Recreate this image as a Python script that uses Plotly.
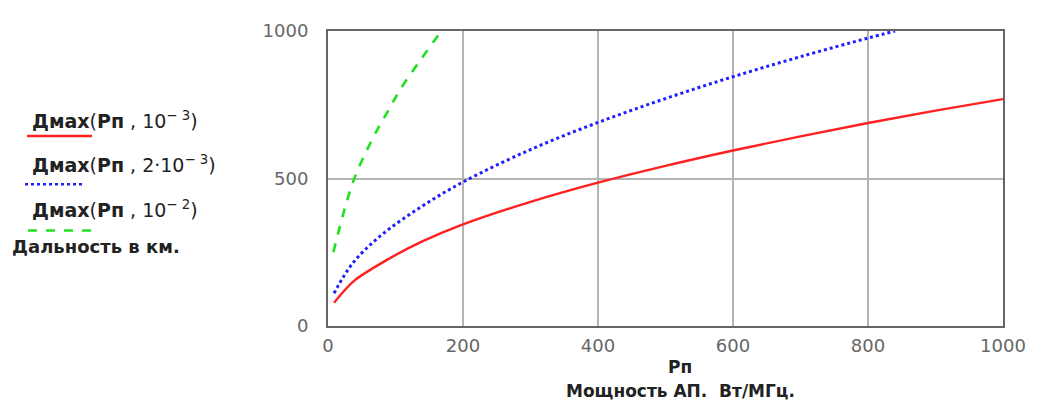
import plotly.graph_objects as go

# Data
pn_red = [9, 25, 39, 88, 138, 197, 300, 400, 500, 600, 700, 800, 900, 1000]
d_red = [79, 122, 154, 225, 285, 342, 421, 486, 543, 595, 643, 688, 730, 769]

pn_blue = [9, 36, 78, 138, 200, 300, 400, 500, 600, 700, 800, 840]
d_blue = [111, 211, 306, 404, 488, 598, 690, 771, 845, 913, 976, 1000]

pn_green = [8, 22, 39, 66, 88, 108, 138, 168]
d_green = [250, 375, 500, 635, 725, 805, 905, 1000]

x_ticks = [0, 200, 400, 600, 800, 1000]
y_ticks = [0, 500, 1000]

legend_labels = [
    "<b>Дмах</b>(<b>Рп</b> , 10<sup>− 3</sup>)",
    "<b>Дмах</b>(<b>Рп</b> , 2·10<sup>− 3</sup>)",
    "<b>Дмах</b>(<b>Рп</b> , 10<sup>− 2</sup>)",
]
legend_colors = ["#ff2020", "#2020ff", "#20e020"]
legend_dash = ["solid", "dot", "dash"]

fig = go.Figure()
fig.add_trace(go.Scatter(x=pn_red, y=d_red, mode="lines",
                         line=dict(color=legend_colors[0], width=2.4, shape="spline", smoothing=1.0), showlegend=False))
fig.add_trace(go.Scatter(x=pn_blue, y=d_blue, mode="lines",
                         line=dict(color=legend_colors[1], width=3, dash="dot", shape="spline", smoothing=1.0), showlegend=False))
fig.add_trace(go.Scatter(x=pn_green, y=d_green, mode="lines",
                         line=dict(color=legend_colors[2], width=2.6, dash="dash", shape="spline", smoothing=1.0), showlegend=False))

tick_font = dict(family="DejaVu Sans, sans-serif", size=18, color="#666")
bold_font = "DejaVu Sans, sans-serif"

# The page body has an 8px margin, so the figure is 8px smaller than the window
fig.update_layout(
    width=1034, height=397,
    margin=dict(l=320, r=39, t=12, b=79),
    paper_bgcolor="white", plot_bgcolor="white",
    font=dict(family="DejaVu Sans, sans-serif", size=16, color="#555"),
    xaxis=dict(range=[0, 1000], tickvals=x_ticks, showgrid=True, gridcolor="#b4b4b4", gridwidth=1.5,
               showline=True, linecolor="#666", linewidth=2, mirror=True, zeroline=False,
               ticks="", tickfont=tick_font, ticklabelstandoff=2),
    yaxis=dict(range=[0, 1000], tickvals=y_ticks, showgrid=True, gridcolor="#b4b4b4", gridwidth=1.5,
               showline=True, linecolor="#666", linewidth=2, mirror=True, zeroline=False,
               ticks="", tickfont=tick_font, ticklabelstandoff=14),
)

# helper: screenshot pixel -> paper coords (plot area spans x 328..1003, y 20..326 in the screenshot)
W = 1003 - 328
H = 326 - 20
def px_to_paper(px, py):
    return (px - 328) / W, (326 - py) / H

# x-axis titles
for txt, (cx, cy) in [("<b>Рп</b>", (680, 369)), ("<b>Мощность АП.  Вт/МГц.</b>", (680, 393))]:
    ax, ay = px_to_paper(cx, cy)
    fig.add_annotation(x=ax, y=ay, xref="paper", yref="paper", text=txt, showarrow=False,
                       xanchor="center", yanchor="middle", font=dict(size=17, color="#222", family=bold_font))

# legend-like labels on the left
text_y = [112, 158, 205]
line_y = [129, 179, 227]
line_x = [(27, 92), (25, 85), (28, 92)]
for lab, col, dash, ty, ly, (x0, x1) in zip(legend_labels, legend_colors, legend_dash, text_y, line_y, line_x):
    ax, ay = px_to_paper(30, ty)
    fig.add_annotation(x=ax, y=ay, xref="paper", yref="paper", text=lab, showarrow=False,
                       xanchor="left", yanchor="middle", font=dict(size=19, color="#222", family=bold_font))
    sx0, sy = px_to_paper(x0, ly)
    sx1, _ = px_to_paper(x1, ly)
    fig.add_shape(type="line", xref="paper", yref="paper", x0=sx0, x1=sx1, y0=sy, y1=sy,
                  line=dict(color=col, width=2.5, dash=dash))

ax, ay = px_to_paper(10, 244)
fig.add_annotation(x=ax, y=ay, xref="paper", yref="paper", text="<b>Дальность в км.</b>", showarrow=False,
                   xanchor="left", yanchor="middle", font=dict(size=18, color="#222", family=bold_font))

fig.write_html("out.html")
